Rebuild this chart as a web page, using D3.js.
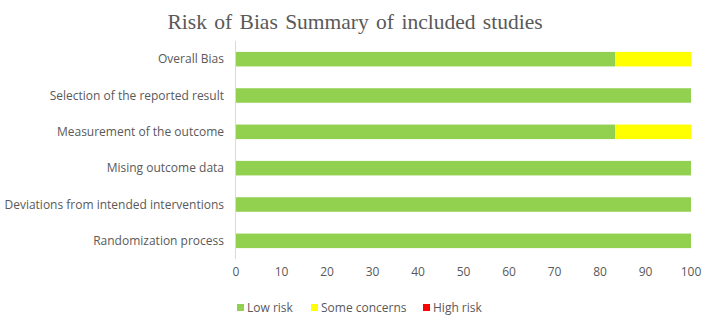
<!DOCTYPE html>
<html>
<head>
<meta charset="utf-8">
<script src="https://cdn.jsdelivr.net/npm/d3@7"></script>
<style>
  body { margin: 0; background: #fff; }
  text { font-family: "Open Sans", sans-serif; }
</style>
</head>
<body>
<svg id="chart"></svg>
<script>
// domains, bottom to top as in the picture
const domains = ["Randomization process", "Deviations from intended interventions", "Mising outcome data",
  "Measurement of the outcome", "Selection of the reported result", "Overall Bias"];
const lowRisk = [100, 100, 100, 83.3, 100, 83.3];
const someConcerns = [0, 0, 0, 16.7, 0, 16.7];
const highRisk = [0, 0, 0, 0, 0, 0];
const seriesNames = ["Low risk", "Some concerns", "High risk"];
const seriesColors = ["#92d050", "#ffff00", "#ff0000"];
const xTicks = [0, 10, 20, 30, 40, 50, 60, 70, 80, 90, 100];

const width = 705, height = 319;
const svg = d3.select("#chart").attr("width", width).attr("height", height);

const x = d3.scaleLinear().domain([0, 100]).range([236, 691]);
const y = d3.scaleBand().domain(domains.slice().reverse()).range([41, 259]).paddingInner(0.6).paddingOuter(0.3);

// title
svg.append("text")
  .attr("x", 355).attr("y", 29)
  .attr("text-anchor", "middle")
  .style("font-family", "'Liberation Serif', 'Times New Roman', serif")
  .style("font-size", "21.5px")
  .style("word-spacing", "2px")
  .attr("fill", "#595959")
  .text("Risk of Bias Summary of included studies");

// stacked bars
const rows = domains.map((d, i) => ({ name: d, values: [lowRisk[i], someConcerns[i], highRisk[i]] }));
rows.forEach(r => {
  let start = 0;
  r.values.forEach((v, k) => {
    if (v > 0) {
      svg.append("rect")
        .attr("x", x(start)).attr("y", y(r.name))
        .attr("width", x(start + v) - x(start))
        .attr("height", y.bandwidth())
        .attr("fill", seriesColors[k]);
    }
    start += v;
  });
});

// category axis line
svg.append("line")
  .attr("x1", x(0) - 0.5).attr("x2", x(0) - 0.5)
  .attr("y1", 41).attr("y2", 259)
  .attr("stroke", "#d9d9d9").attr("stroke-width", 1);

// category labels
svg.selectAll(".cat")
  .data(domains)
  .enter()
  .append("text")
  .attr("class", "cat")
  .attr("x", 224)
  .attr("y", d => y(d) + y.bandwidth() / 2)
  .attr("dy", "0.35em")
  .attr("text-anchor", "end")
  .style("font-size", "12px")
  .attr("fill", "#595959")
  .text(d => d);

// x tick labels
svg.selectAll(".tick")
  .data(xTicks)
  .enter()
  .append("text")
  .attr("x", d => x(d))
  .attr("y", 276)
  .attr("text-anchor", "middle")
  .style("font-size", "12px")
  .attr("fill", "#595959")
  .text(d => d);

// legend
const legendX = [237, 311, 423];
seriesNames.forEach((s, i) => {
  svg.append("rect")
    .attr("x", legendX[i]).attr("y", 304)
    .attr("width", 7).attr("height", 7)
    .attr("fill", seriesColors[i]);
  svg.append("text")
    .attr("x", legendX[i] + 10).attr("y", 312)
    .style("font-size", "12px")
    .attr("fill", "#595959")
    .text(s);
});
</script>
</body>
</html>
